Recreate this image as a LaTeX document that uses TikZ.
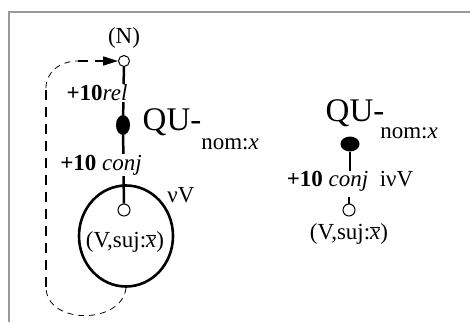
\documentclass[tikz,border=0pt]{standalone}
\usepackage{fontspec}
\setmainfont{Liberation Serif}
\usetikzlibrary{arrows.meta,shapes.geometric}
\begin{document}
\begin{tikzpicture}[x=1pt,y=-1pt,
  every node/.style={inner sep=0pt,font=\fontsize{23}{27}\selectfont},
  opn/.style={circle,draw,line width=1pt,minimum size=12pt},
  big/.style={font=\fontsize{33}{38}\selectfont},
  edgeline/.style={line width=2.5pt},
  lab/.style={fill=white,inner sep=1pt},
  thickdash/.style={line width=1.6pt,dash pattern=on 10pt off 7pt},
  thindash/.style={line width=0.8pt,dash pattern=on 6pt off 5pt},
  frame/.style={draw=gray!80,line width=1.3pt}]
\useasboundingbox (0,0) rectangle (470,322);
\draw[frame] (470,12) -- (9,12) -- (9,322);
% left structure
\node[circle,draw,line width=1pt,minimum size=11pt] (N) at (124,61) {};
\node (Nl) at (124,38) {(N)};
\node[ellipse,fill,minimum width=14pt,minimum height=20pt] (Q1) at (123,125) {};
\node[opn] (V1) at (124,210) {};
\node[ellipse,draw,line width=2.6pt,minimum width=94pt,minimum height=101pt] (C) at (126,236) {};
\node (V1l) at (125,242) {(V,suj:$\overline{\textit{x}}$)};
\node (nuV) at (181,195) {νV};
\node[big] (QU1) at (172,122) {QU-};
\node (nom1) at (230,144) {nom:\textit{x}};
\draw[edgeline] (N) -- (Q1);
\draw[edgeline] (Q1) -- (V1);
\node[lab] (r1) at (97,93) {\textbf{+10}\textit{rel}};
\node[lab] (c1) at (101,165) {\textbf{+10} \textit{conj}};
% dashed loop
\coordinate (b1) at (46,287);
\coordinate (b2) at (46,88);
\coordinate (b3) at (78,61);
\draw[thindash] (C.south) .. controls (122,325) and (46,325) .. (b1);
\draw[thickdash] (b1) -- (b2);
\draw[thindash] (b2) .. controls (46,72) and (60,61) .. (b3);
\draw[thickdash,-{Triangle[length=15pt,width=9pt]}] (b3) -- (N.west);
% right structure
\node[big] (QU2) at (355,113) {QU-};
\node (nom2) at (409,133) {nom:\textit{x}};
\node[ellipse,fill,minimum width=19pt,minimum height=15pt] (Q2) at (350,144) {};
\node (c2) at (350,181) {\textbf{+10} \textit{conj}\ \ iνV};
\node[opn] (V2) at (349,210) {};
\node (V2l) at (349,234) {(V,suj:$\overline{\textit{x}}$)};
\draw[edgeline] (Q2) -- (Q2 |- c2.north);
\draw[edgeline] (V2.north) -- ++(0,-7);
\end{tikzpicture}
\end{document}
